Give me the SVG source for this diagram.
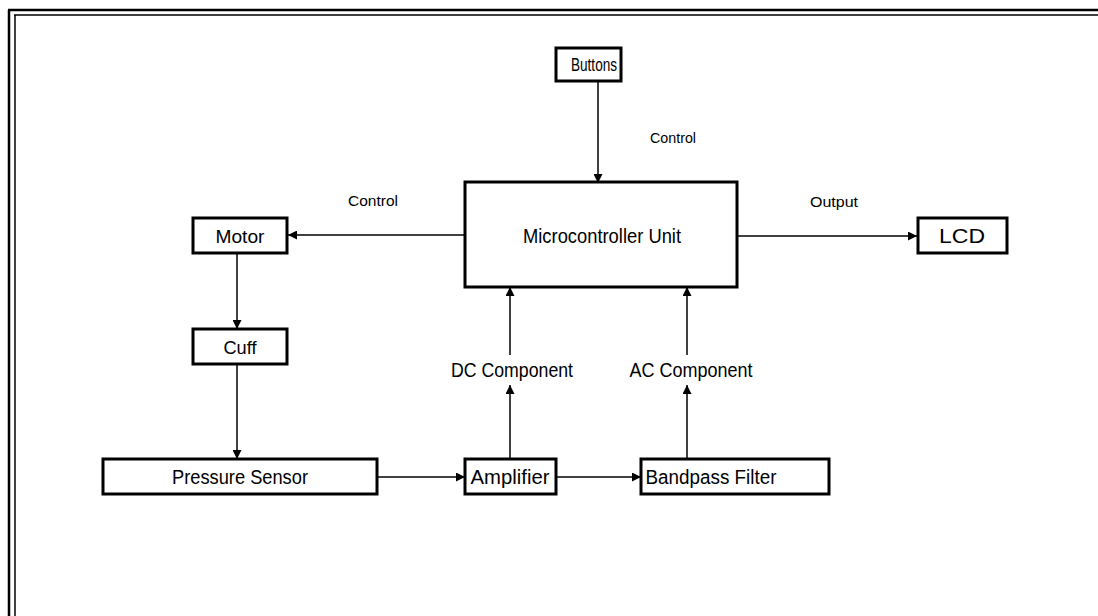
<svg xmlns="http://www.w3.org/2000/svg" width="1098" height="616" viewBox="0 0 1098 616">
<style>
.box{fill:#fff;stroke:#000;stroke-width:3}
.t{font-family:"Liberation Sans",Arial,sans-serif;fill:#000;text-anchor:middle;dominant-baseline:central}
.c{stroke:#000;stroke-width:1.5;fill:none}
.frame{stroke:#000;fill:none}
</style>
<defs>
<marker id="ah" viewBox="0 0 10 10" refX="10" refY="5" markerWidth="11" markerHeight="9" markerUnits="userSpaceOnUse" orient="auto">
<path d="M0,0 L10,5 L0,10 z" fill="#000"/>
</marker>
</defs>
<rect width="1098" height="616" fill="#fff"/>
<g id="frame">
<line class="frame" x1="8" y1="10" x2="1098" y2="10" stroke-width="2.5"/>
<line class="frame" x1="14" y1="15" x2="1098" y2="15" stroke-width="1.5"/>
<line class="frame" x1="9" y1="10" x2="9" y2="616" stroke-width="2.5"/>
<line class="frame" x1="15" y1="15" x2="15" y2="616" stroke-width="1.5"/>
</g>
<g id="connectors">
<line class="c" x1="598" y1="81" x2="598" y2="183" marker-end="url(#ah)"/>
<line class="c" x1="464" y1="235" x2="288" y2="235" marker-end="url(#ah)"/>
<line class="c" x1="737" y1="236" x2="917" y2="236" marker-end="url(#ah)"/>
<line class="c" x1="237" y1="253" x2="237" y2="329" marker-end="url(#ah)"/>
<line class="c" x1="237" y1="364" x2="237" y2="459" marker-end="url(#ah)"/>
<line class="c" x1="377" y1="477" x2="465" y2="477" marker-end="url(#ah)"/>
<line class="c" x1="556" y1="477" x2="641" y2="477" marker-end="url(#ah)"/>
<line class="c" x1="510" y1="459" x2="510" y2="385" marker-end="url(#ah)"/>
<line class="c" x1="510" y1="355" x2="510" y2="287" marker-end="url(#ah)"/>
<line class="c" x1="687" y1="459" x2="687" y2="385" marker-end="url(#ah)"/>
<line class="c" x1="687" y1="355" x2="687" y2="287" marker-end="url(#ah)"/>
<text class="t" x="673" y="137" font-size="15" textLength="46" lengthAdjust="spacingAndGlyphs">Control</text>
<text class="t" x="373" y="200" font-size="15" textLength="50" lengthAdjust="spacingAndGlyphs">Control</text>
<text class="t" x="834" y="201" font-size="15" textLength="48" lengthAdjust="spacingAndGlyphs">Output</text>
<text class="t" x="512" y="370" font-size="20" textLength="122" lengthAdjust="spacingAndGlyphs">DC Component</text>
<text class="t" x="691" y="370" font-size="20" textLength="123" lengthAdjust="spacingAndGlyphs">AC Component</text>
</g>
<g id="buttons">
<rect class="box" x="556" y="48" width="65" height="33"/>
<text class="t" x="594" y="65" font-size="18" textLength="46" lengthAdjust="spacingAndGlyphs">Buttons</text>
</g>
<g id="mcu">
<rect class="box" x="465" y="182" width="272" height="105"/>
<text class="t" x="602" y="236" font-size="20" textLength="158" lengthAdjust="spacingAndGlyphs">Microcontroller Unit</text>
</g>
<g id="motor">
<rect class="box" x="193" y="218" width="94" height="35"/>
<text class="t" x="240" y="236" font-size="19" textLength="49" lengthAdjust="spacingAndGlyphs">Motor</text>
</g>
<g id="lcd">
<rect class="box" x="918" y="218" width="89" height="35"/>
<text class="t" x="962" y="236" font-size="20" textLength="46" lengthAdjust="spacingAndGlyphs">LCD</text>
</g>
<g id="cuff">
<rect class="box" x="193" y="329" width="94" height="35"/>
<text class="t" x="240" y="347" font-size="19" textLength="33" lengthAdjust="spacingAndGlyphs">Cuff</text>
</g>
<g id="pressure-sensor">
<rect class="box" x="103" y="459" width="274" height="35"/>
<text class="t" x="240" y="477" font-size="20" textLength="136" lengthAdjust="spacingAndGlyphs">Pressure Sensor</text>
</g>
<g id="amplifier">
<rect class="box" x="465" y="459" width="91" height="35"/>
<text class="t" x="510" y="477" font-size="20" textLength="79" lengthAdjust="spacingAndGlyphs">Amplifier</text>
</g>
<g id="bandpass-filter">
<rect class="box" x="641" y="459" width="188" height="35"/>
<text class="t" x="711" y="477" font-size="20" textLength="131" lengthAdjust="spacingAndGlyphs">Bandpass Filter</text>
</g>
</svg>
